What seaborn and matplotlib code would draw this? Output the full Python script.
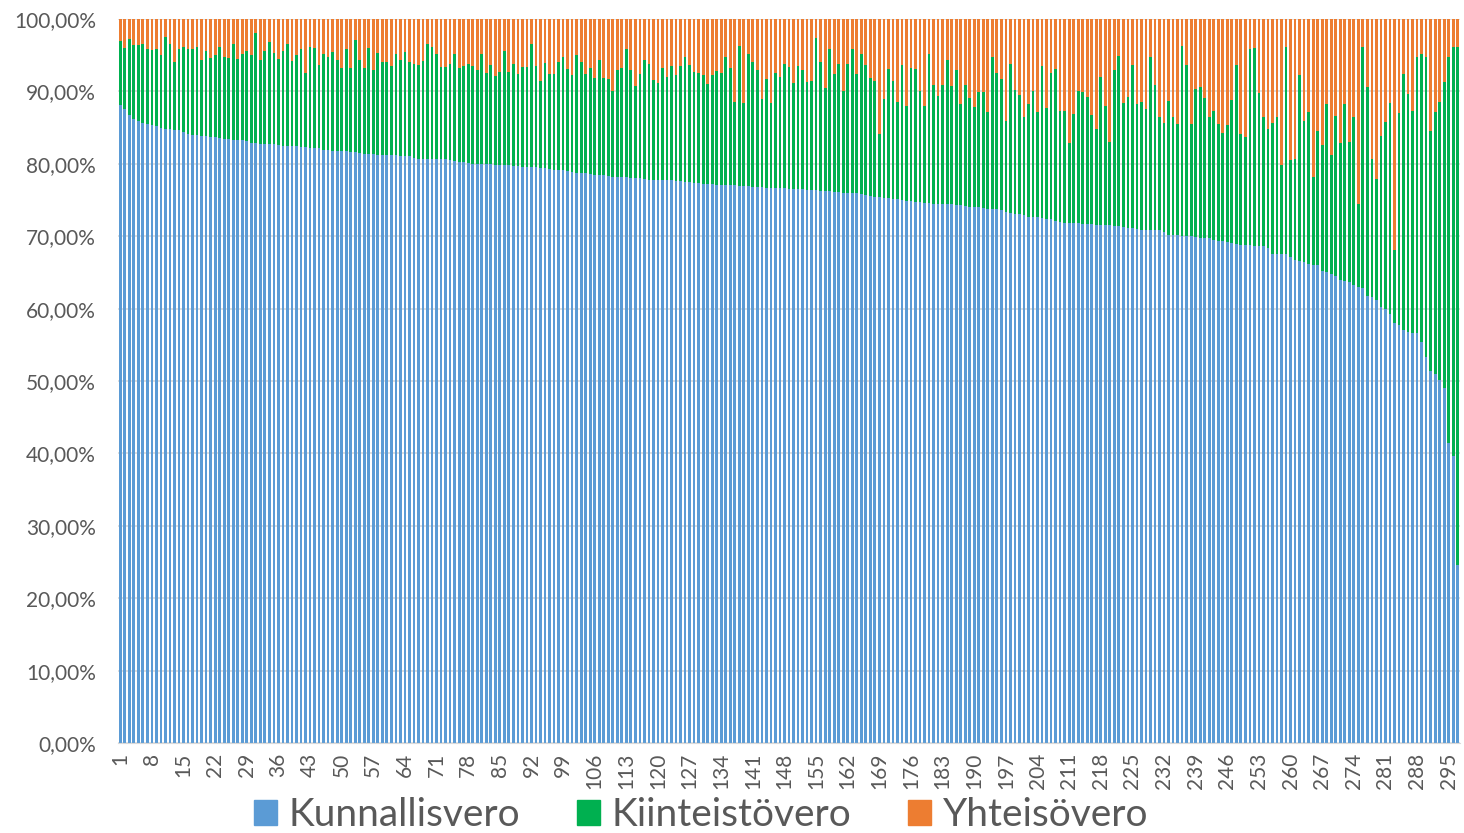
import numpy as np
import pandas as pd
import seaborn as sns
import matplotlib.pyplot as plt
from matplotlib.patches import Patch
from matplotlib.ticker import FuncFormatter

# shares of each tax (%) per municipality, sorted by Kunnallisvero
kunnallisvero = [
    88.1, 87.6, 86.8, 86.2, 85.9, 85.6, 85.5, 85.3, 85.2, 85.0, 84.8, 84.8, 84.7, 84.6, 84.4, 84.1, 84.0, 84.0, 83.9, 83.8, 83.7, 83.7, 83.5, 83.4, 83.4,
    83.3, 83.3, 83.3, 83.2, 82.9, 82.9, 82.8, 82.7, 82.7, 82.7, 82.6, 82.5, 82.4, 82.4, 82.4, 82.3, 82.3, 82.2, 82.2, 82.2, 81.9, 81.9, 81.8, 81.8, 81.7,
    81.7, 81.6, 81.6, 81.5, 81.4, 81.3, 81.3, 81.2, 81.2, 81.2, 81.2, 81.2, 81.1, 81.1, 81.1, 80.8, 80.7, 80.7, 80.6, 80.6, 80.6, 80.6, 80.6, 80.5, 80.4,
    80.3, 80.2, 80.1, 80.0, 80.0, 80.0, 80.0, 80.0, 79.9, 79.8, 79.8, 79.8, 79.7, 79.7, 79.6, 79.6, 79.5, 79.5, 79.4, 79.4, 79.3, 79.2, 79.1, 79.1, 79.0,
    78.8, 78.7, 78.7, 78.7, 78.6, 78.5, 78.4, 78.4, 78.3, 78.2, 78.2, 78.2, 78.2, 78.1, 78.0, 78.0, 77.9, 77.8, 77.8, 77.8, 77.7, 77.7, 77.7, 77.6, 77.6,
    77.5, 77.5, 77.4, 77.3, 77.2, 77.2, 77.2, 77.1, 77.1, 77.1, 77.1, 77.1, 76.9, 76.9, 76.9, 76.8, 76.8, 76.8, 76.7, 76.7, 76.7, 76.6, 76.6, 76.5, 76.5,
    76.5, 76.5, 76.4, 76.4, 76.4, 76.3, 76.3, 76.2, 76.1, 76.1, 76.0, 76.0, 75.9, 75.9, 75.8, 75.7, 75.5, 75.4, 75.4, 75.3, 75.3, 75.2, 75.1, 75.0, 74.9,
    74.8, 74.7, 74.7, 74.6, 74.6, 74.5, 74.5, 74.5, 74.4, 74.4, 74.3, 74.3, 74.2, 74.1, 74.1, 74.0, 73.9, 73.8, 73.8, 73.7, 73.6, 73.3, 73.2, 73.1, 73.0,
    72.9, 72.7, 72.6, 72.6, 72.5, 72.4, 72.4, 72.1, 71.9, 71.8, 71.8, 71.8, 71.8, 71.7, 71.7, 71.7, 71.6, 71.6, 71.5, 71.5, 71.4, 71.4, 71.3, 71.2, 71.2,
    71.0, 70.9, 70.8, 70.8, 70.8, 70.8, 70.6, 70.1, 70.1, 70.1, 70.0, 70.0, 70.0, 69.9, 69.8, 69.8, 69.7, 69.5, 69.4, 69.3, 69.2, 69.1, 68.9, 68.8, 68.8,
    68.8, 68.7, 68.7, 68.6, 68.4, 67.6, 67.6, 67.5, 67.5, 67.1, 66.7, 66.6, 66.5, 66.2, 66.0, 66.0, 65.2, 65.0, 64.8, 64.5, 63.9, 63.8, 63.7, 63.2, 63.0,
    62.9, 61.8, 61.6, 61.2, 60.2, 60.0, 59.3, 58.0, 57.8, 57.0, 56.7, 56.6, 56.6, 55.4, 53.3, 51.4, 51.0, 50.2, 49.1, 41.5, 39.6, 24.6,
]
kiinteistovero = [
    8.9, 8.4, 10.4, 10.2, 10.5, 11.0, 10.4, 10.4, 10.7, 10.0, 12.7, 11.7, 9.4, 11.2, 11.8, 11.7, 11.9, 12.1, 10.4, 11.8, 10.9, 11.3, 12.6, 11.4, 11.2,
    13.2, 11.2, 11.9, 12.4, 12.1, 15.1, 11.6, 12.9, 14.1, 12.6, 11.9, 13.1, 14.1, 11.8, 12.6, 13.6, 10.2, 13.9, 13.8, 11.5, 13.3, 12.8, 13.6, 12.6, 11.5,
    14.2, 11.6, 15.5, 12.8, 11.9, 14.7, 11.6, 14.1, 12.8, 12.8, 12.3, 13.9, 13.2, 14.3, 13.0, 13.0, 13.0, 13.5, 15.9, 15.6, 14.6, 12.8, 12.8, 13.3, 14.8,
    12.9, 13.3, 13.7, 13.5, 13.0, 15.1, 12.6, 13.6, 12.2, 12.9, 15.8, 12.9, 14.1, 12.7, 13.8, 13.8, 17.1, 14.0, 12.1, 14.5, 13.1, 13.2, 14.9, 15.6, 14.1,
    13.5, 16.3, 15.4, 13.7, 14.7, 13.3, 15.9, 13.4, 13.4, 11.9, 14.7, 15.1, 17.6, 14.9, 12.8, 14.4, 16.4, 16.0, 13.8, 13.3, 15.6, 14.3, 15.8, 14.6, 15.9,
    17.2, 16.1, 15.3, 15.2, 15.0, 13.8, 15.0, 15.7, 15.5, 17.6, 16.1, 11.5, 19.4, 11.5, 18.3, 17.2, 16.2, 12.2, 15.0, 11.7, 15.9, 15.4, 17.2, 16.9, 14.7,
    17.0, 16.5, 14.9, 15.1, 21.0, 17.7, 14.2, 19.7, 16.3, 17.7, 14.1, 17.8, 20.0, 16.5, 19.3, 18.0, 16.3, 16.1, 8.7, 13.7, 17.8, 16.3, 13.5, 18.7, 13.1,
    18.4, 18.4, 15.4, 13.4, 20.6, 16.4, 14.9, 16.4, 19.9, 16.4, 18.6, 14.0, 16.7, 15.0, 13.7, 15.9, 16.0, 13.4, 21.0, 18.8, 18.1, 12.6, 20.6, 17.1, 16.5,
    13.6, 15.5, 17.4, 14.6, 21.0, 15.3, 20.2, 21.0, 15.4, 15.5, 11.1, 15.1, 18.3, 18.2, 17.5, 15.1, 13.2, 20.4, 16.5, 11.5, 21.6, 23.5, 17.1, 18.0, 22.4,
    17.2, 17.7, 16.8, 24.0, 20.1, 15.7, 15.1, 18.6, 16.4, 15.4, 26.3, 23.7, 15.5, 20.4, 20.8, 19.3, 16.8, 17.8, 16.1, 15.0, 16.1, 19.7, 24.8, 15.3, 14.9,
    27.1, 27.3, 21.1, 17.9, 16.4, 18.1, 18.9, 12.3, 28.6, 13.4, 14.0, 25.7, 19.4, 20.9, 12.2, 18.5, 17.4, 23.2, 16.4, 22.1, 19.0, 24.4, 19.3, 23.3, 11.4,
    33.3, 28.8, 19.0, 16.7, 23.7, 25.8, 29.1, 10.1, 29.2, 35.4, 32.9, 30.7, 38.1, 39.8, 41.5, 33.1, 36.1, 38.3, 42.2, 53.2, 56.6, 71.6,
]
yhteisovero = [
    3.0, 4.0, 2.8, 3.6, 3.6, 3.4, 4.1, 4.3, 4.1, 5.0, 2.5, 3.5, 5.9, 4.2, 3.8, 4.2, 4.1, 3.9, 5.7, 4.4, 5.4, 5.0, 3.9, 5.2, 5.4,
    3.5, 5.5, 4.8, 4.4, 5.0, 2.0, 5.6, 4.4, 3.2, 4.7, 5.5, 4.4, 3.5, 5.8, 5.0, 4.1, 7.5, 3.9, 4.0, 6.3, 4.8, 5.3, 4.6, 5.6, 6.8,
    4.1, 6.8, 2.9, 5.7, 6.7, 4.0, 7.1, 4.7, 6.0, 6.0, 6.5, 4.9, 5.7, 4.6, 5.9, 6.2, 6.3, 5.8, 3.5, 3.8, 4.8, 6.6, 6.6, 6.2, 4.8,
    6.8, 6.5, 6.2, 6.5, 7.0, 4.9, 7.4, 6.4, 7.9, 7.3, 4.4, 7.3, 6.2, 7.6, 6.6, 6.6, 3.4, 6.5, 8.5, 6.1, 7.6, 7.6, 6.0, 5.3, 6.9,
    7.7, 5.0, 5.9, 7.6, 6.7, 8.2, 5.7, 8.2, 8.3, 9.9, 7.1, 6.7, 4.2, 7.0, 9.2, 7.6, 5.7, 6.2, 8.4, 8.9, 6.7, 8.0, 6.5, 7.8, 6.5,
    5.3, 6.4, 7.3, 7.5, 7.8, 9.0, 7.8, 7.2, 7.4, 5.3, 6.8, 11.4, 3.7, 11.6, 4.8, 6.0, 7.0, 11.0, 8.3, 11.6, 7.4, 8.0, 6.2, 6.6, 8.8,
    6.5, 7.0, 8.7, 8.5, 2.6, 6.0, 9.5, 4.1, 7.6, 6.2, 9.9, 6.2, 4.1, 7.6, 4.9, 6.3, 8.2, 8.5, 15.9, 11.0, 6.9, 8.5, 11.4, 6.3, 12.0,
    6.8, 6.9, 9.9, 12.0, 4.8, 9.1, 10.6, 9.1, 5.7, 9.2, 7.1, 11.7, 9.1, 10.9, 12.2, 10.1, 10.1, 12.8, 5.2, 7.5, 8.3, 14.1, 6.2, 9.8, 10.5,
    13.5, 11.8, 10.0, 12.8, 6.5, 12.3, 7.4, 6.9, 12.7, 12.7, 17.1, 13.1, 9.9, 10.1, 10.8, 13.2, 15.2, 8.0, 12.0, 17.0, 7.0, 5.1, 11.6, 10.8, 6.4,
    11.8, 11.4, 12.4, 5.2, 9.1, 13.5, 14.3, 11.3, 13.5, 14.5, 3.7, 6.3, 14.5, 9.7, 9.4, 10.9, 13.5, 12.7, 14.5, 15.7, 14.7, 11.2, 6.3, 15.9, 16.3,
    4.1, 4.0, 10.2, 13.5, 15.2, 14.3, 13.5, 20.2, 3.9, 19.5, 19.3, 7.7, 14.1, 12.9, 21.8, 15.5, 17.4, 11.8, 18.8, 13.4, 17.1, 11.8, 17.0, 13.5, 25.6,
    3.8, 9.4, 19.4, 22.1, 16.1, 14.2, 11.6, 31.9, 13.0, 7.6, 10.4, 12.7, 5.3, 4.8, 5.2, 15.5, 12.9, 11.5, 8.7, 5.3, 3.8, 3.8,
]
nro = list(range(1, len(kunnallisvero) + 1))

df = pd.DataFrame({"nro": nro, "Kunnallisvero": kunnallisvero,
                   "Kiinteistövero": kiinteistovero, "Yhteisövero": yhteisovero})
# 100 % stacked: normalise and draw cumulative layers back to front
tot = df[["Kunnallisvero", "Kiinteistövero", "Yhteisövero"]].sum(axis=1)
df["blue"] = df["Kunnallisvero"] / tot * 100
df["green"] = (df["Kunnallisvero"] + df["Kiinteistövero"]) / tot * 100
df["orange"] = 100.0

colors = {"Kunnallisvero": "#5B9BD5", "Kiinteistövero": "#00B050", "Yhteisövero": "#ED7D31"}

sns.set_style("white")
plt.rcParams["font.family"] = ["Lato", "DejaVu Sans"]

fig = plt.figure(figsize=(14.64, 8.33), dpi=100)
ax = fig.add_axes([118 / 1464, 1 - 743 / 833, (1460 - 118) / 1464, (743 - 19) / 833])

for col, c in [("orange", colors["Yhteisövero"]), ("green", colors["Kiinteistövero"]),
               ("blue", colors["Kunnallisvero"])]:
    sns.barplot(data=df, x="nro", y=col, color=c, saturation=1, width=0.6,
                linewidth=0, ax=ax, zorder=2)

ax.set_ylim(0, 100)
ax.set_yticks(np.arange(0, 101, 10))
ax.yaxis.set_major_formatter(FuncFormatter(lambda v, _: f"{v:.2f}".replace(".", ",") + "%"))
ax.yaxis.grid(True, color="#D9D9D9", linewidth=1.2, zorder=0)
ax.set_axisbelow(True)

ticks = list(range(0, len(nro), 7))
ax.set_xticks(ticks)
ax.set_xticklabels([str(nro[i]) for i in ticks], rotation=90)
ax.set_xlim(-0.5, len(nro) - 0.5)
ax.tick_params(axis="both", labelsize=15, colors="#595959", length=0)
ax.tick_params(axis="y", pad=16)
ax.tick_params(axis="x", pad=7)
ax.set_xlabel("")
ax.set_ylabel("")
for s in ["top", "right", "left"]:
    ax.spines[s].set_visible(False)
ax.spines["bottom"].set_color("#D9D9D9")

handles = [Patch(color=v, label=k) for k, v in colors.items()]
leg = fig.legend(handles=handles, loc="center", ncol=3, frameon=False,
                 bbox_to_anchor=(0.479, 1 - 815 / 833), fontsize=28, handlelength=0.6,
                 handleheight=0.6, handletextpad=0.3, columnspacing=1.45,
                 borderpad=0, borderaxespad=0)
for t in leg.get_texts():
    t.set_color("#595959")

fig.savefig("out.png", dpi=100)
